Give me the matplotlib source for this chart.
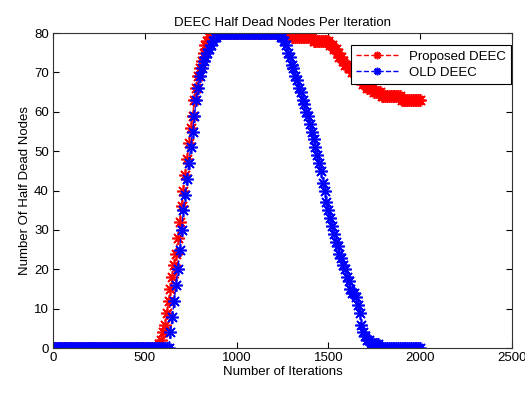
import matplotlib
matplotlib.use('Agg')
import matplotlib.pyplot as plt
import numpy as np

plt.rcParams['font.family'] = ['Liberation Sans', 'DejaVu Sans']

# iterations (every 10th)
iterations = list(range(0, 2001, 10))

proposed_deec = [0] * 58 + [
    1, 2, 4, 6, 9, 12, 15, 18, 21, 24,
    28, 32, 36, 40, 44, 48, 52, 56, 59, 63,
    66, 69, 71, 73, 75, 77, 78, 79, 79, 80,
] + [80] * 42 + [79] * 12 + [78] * 8 + [
    78, 77, 77, 76, 76, 75, 74, 74, 73, 72,
    72, 71, 71, 70, 70, 69, 69, 68, 68, 67,
    67, 66, 66, 66, 66, 65, 65, 65, 65, 64,
] + [64] * 10 + [63] * 11

old_deec = [0] * 64 + [
    4, 8, 12, 16, 20, 25, 30, 35, 39, 43,
    47, 51, 55, 59, 63, 66, 69, 71, 73, 74,
    75, 76, 77, 78, 79, 79, 80,
] + [80] * 33 + [
    79, 79, 78, 77, 75, 74, 72, 71, 69, 68,
    66, 65, 63, 62, 60, 59, 57, 55, 53, 51,
    49, 47, 45, 42, 40, 37, 35, 33, 31, 29,
    27, 26, 24, 23, 21, 20, 18, 17, 15, 14,
    14, 13, 11, 9, 6, 4, 3, 2, 2, 1,
    1, 1, 1, 1,
] + [0] * 23

fig = plt.figure(figsize=(5.25, 4.13), dpi=100)
ax = fig.add_axes([0.101, 0.157, 0.874, 0.763])

star = (8, 2, 0)  # matlab style asterisk
ax.plot(iterations, proposed_deec, '--', marker=star, color='#ff0000', lw=1.0,
        markersize=9, markeredgewidth=1.2, label='Proposed DEEC')
ax.plot(iterations, old_deec, '--', marker=star, color='#0000ff', lw=1.0,
        markersize=9, markeredgewidth=1.2, label='OLD DEEC')

ax.set_xlim(0, 2500)
ax.set_ylim(0, 80)
ax.set_xticks(np.arange(0, 2501, 500))
ax.set_yticks(np.arange(0, 81, 10))
ax.tick_params(direction='in', top=True, right=True, labelsize=9.5, length=4,
               pad=3)
for s in ax.spines.values():
    s.set_linewidth(0.8)
    s.set_color('#333333')

ax.set_title('DEEC Half Dead Nodes Per Iteration', fontsize=9.5, pad=5)
ax.set_xlabel('Number of Iterations', fontsize=9.5, labelpad=1)
ax.set_ylabel('Number Of Half Dead Nodes', fontsize=9.5, labelpad=2)

leg = ax.legend(loc='upper right', bbox_to_anchor=(0.998, 0.962),
                fontsize=9.5, fancybox=False, framealpha=1,
                edgecolor='black', borderaxespad=0, handlelength=3.2,
                borderpad=0.4, labelspacing=0.3, markerscale=0.6)
leg.get_frame().set_linewidth(0.8)

plt.savefig('out.png', dpi=100)
